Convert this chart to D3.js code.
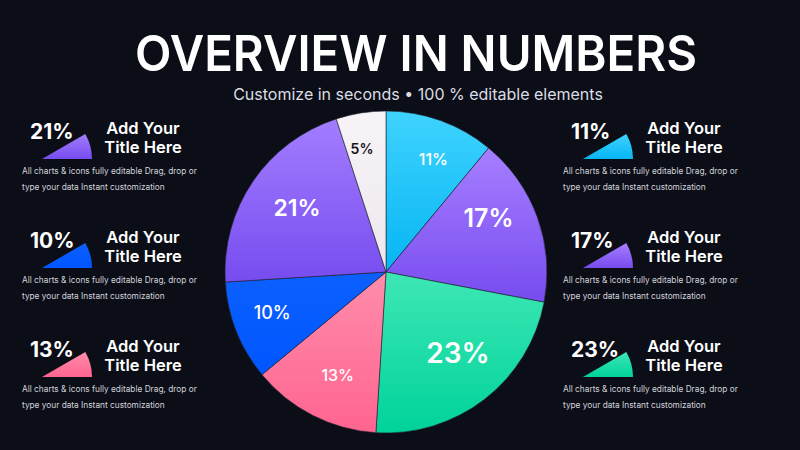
<!DOCTYPE html>
<html>
<head>
<meta charset="utf-8">
<script src="https://cdn.jsdelivr.net/npm/d3@7"></script>
<style>
  html, body { margin: 0; padding: 0; background: #0b0d17; }
  svg { display: block; font-family: Inter, "Noto Sans", sans-serif; }
</style>
</head>
<body>
<div id="chart"></div>
<script>
// slices, clockwise from 12 o'clock
const sliceLabels = ["11%", "17%", "23%", "13%", "10%", "21%", "5%"];
const sliceValues = [11, 17, 23, 13, 10, 21, 5];

// side blocks: which slice they describe
const leftItems = [5, 4, 3];
const rightItems = [0, 1, 2];
const itemTitle = ["Add Your", "Title Here"];
const itemText = ["All charts & icons fully editable Drag, drop or", "type your data Instant customization"];

const titleText = "OVERVIEW IN NUMBERS";
const subtitleText = "Customize in seconds \u2022 100 % editable elements";

const width = 800, height = 450;

// top / bottom colour of each slice gradient
const gradTop = ["#3fd3ff", "#a67fff", "#3ee7b5", "#ff8dab", "#0c60ff", "#a37dff", "#f7f3f7"];
const gradBot = ["#06b5f3", "#774bef", "#00d39a", "#ff6490", "#0056ff", "#774cef", "#eee8ee"];
const labelSize = [16, 25, 28, 16, 18, 23, 14];
const labelWeight = [500, 600, 600, 500, 500, 600, 600];
// label distance (share of radius) and small angle nudge in degrees
const labelDist = [0.76, 0.72, 0.67, 0.71, 0.75, 0.68, 0.78];
const labelNudge = [3, -8, -4, -2, 2, 1.5, -2];

const svg = d3.select("#chart").append("svg")
    .attr("width", width)
    .attr("height", height);

svg.append("rect").attr("width", width).attr("height", height).attr("fill", "#0b0d17");

const defs = svg.append("defs");
sliceValues.forEach(function (v, i) {
    const g = defs.append("linearGradient")
        .attr("id", "grad" + i)
        .attr("x1", 0).attr("y1", 0).attr("x2", 0).attr("y2", 1);
    g.append("stop").attr("offset", "0%").attr("stop-color", gradTop[i]);
    g.append("stop").attr("offset", "100%").attr("stop-color", gradBot[i]);
});

// title
svg.append("text")
    .attr("x", 416).attr("y", 71)
    .attr("text-anchor", "middle")
    .attr("fill", "#ffffff")
    .attr("font-size", 50)
    .attr("font-weight", 600)
    .attr("textLength", 562)
    .attr("lengthAdjust", "spacingAndGlyphs")
    .text(titleText);

svg.append("text")
    .attr("x", 418).attr("y", 100)
    .attr("text-anchor", "middle")
    .attr("fill", "#dcdde4")
    .attr("font-size", 16)
    .text(subtitleText);

// pie
const cx = 386, cy = 272, r = 161;
const pie = d3.pie().sort(null).value(d => d);
const arcs = pie(sliceValues);
const arc = d3.arc().innerRadius(0).outerRadius(r);

const pieG = svg.append("g").attr("transform", `translate(${cx},${cy})`);

pieG.selectAll("path")
    .data(arcs)
    .join("path")
    .attr("d", arc)
    .attr("fill", (d, i) => `url(#grad${i})`)
    .attr("stroke", "#20222e")
    .attr("stroke-width", 0.6);

function labelPos(d, i) {
    const a = (d.startAngle + d.endAngle) / 2 + labelNudge[i] * Math.PI / 180;
    const rr = r * labelDist[i];
    return [Math.sin(a) * rr, -Math.cos(a) * rr];
}

pieG.selectAll("text")
    .data(arcs)
    .join("text")
    .attr("transform", (d, i) => `translate(${labelPos(d, i)})`)
    .attr("text-anchor", "middle")
    .attr("dy", "0.36em")
    .attr("font-size", (d, i) => labelSize[i])
    .attr("font-weight", (d, i) => labelWeight[i])
    .attr("fill", (d, i) => i === 6 ? "#15151c" : "#ffffff")
    .text((d, i) => sliceLabels[i]);

// small wedge icons
const iconArc = d3.arc().innerRadius(0).outerRadius(50)
    .startAngle(Math.PI / 3).endAngle(Math.PI / 2);

function drawItem(idx, x0, y0) {
    const g = svg.append("g").attr("transform", `translate(${x0},${y0})`);

    g.append("path")
        .attr("d", iconArc())
        .attr("transform", "translate(20,28)")
        .attr("fill", `url(#grad${idx})`);

    g.append("text")
        .attr("x", 8).attr("y", 8)
        .attr("fill", "#ffffff")
        .attr("font-size", 21)
        .attr("font-weight", 700)
        .text(sliceLabels[idx]);

    g.selectAll(".ttl")
        .data(itemTitle)
        .join("text")
        .attr("class", "ttl")
        .attr("x", 121).attr("y", (d, i) => 3 + i * 19)
        .attr("text-anchor", "middle")
        .attr("fill", "#ffffff")
        .attr("font-size", 16.5)
        .attr("font-weight", 600)
        .text(d => d);

    g.selectAll(".dsc")
        .data(itemText)
        .join("text")
        .attr("class", "dsc")
        .attr("x", 0).attr("y", (d, i) => 43 + i * 16)
        .attr("fill", "#d3d4dc")
        .attr("font-size", 8.3)
        .text(d => d);
}

leftItems.forEach((idx, k) => drawItem(idx, 22, 131 + k * 109));
rightItems.forEach((idx, k) => drawItem(idx, 563, 131 + k * 109));
</script>
</body>
</html>
